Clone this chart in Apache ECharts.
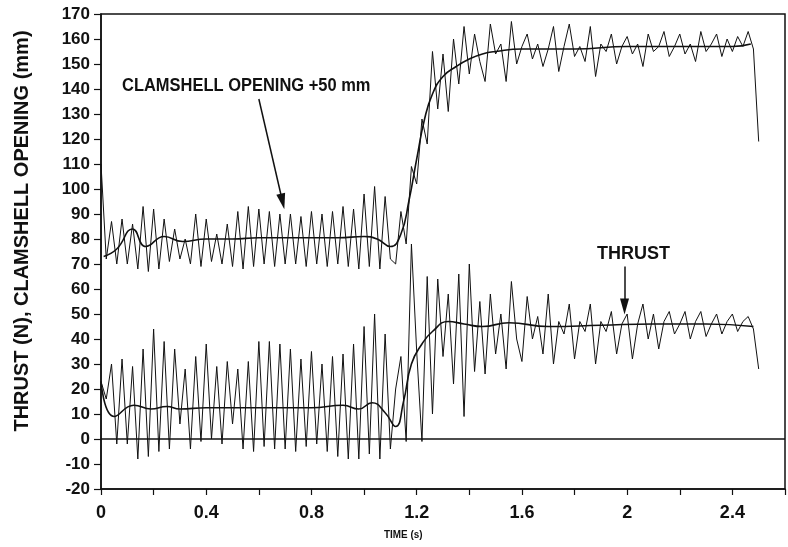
<!DOCTYPE html>
<html>
<head>
<meta charset="utf-8">
<script src="https://cdn.jsdelivr.net/npm/echarts@6/dist/echarts.min.js"></script>
<style>
  html, body { margin: 0; padding: 0; background: #fff; }
  #chart { width: 788px; height: 547px; }
</style>
</head>
<body>
<div id="chart"></div>
<script>
// raw samples, every 0.02 s
const rawTime = [
  0, 0.02, 0.04, 0.06, 0.08, 0.1, 0.12, 0.14, 0.16, 0.18,
  0.2, 0.22, 0.24, 0.26, 0.28, 0.3, 0.32, 0.34, 0.36, 0.38,
  0.4, 0.42, 0.44, 0.46, 0.48, 0.5, 0.52, 0.54, 0.56, 0.58,
  0.6, 0.62, 0.64, 0.66, 0.68, 0.7, 0.72, 0.74, 0.76, 0.78,
  0.8, 0.82, 0.84, 0.86, 0.88, 0.9, 0.92, 0.94, 0.96, 0.98,
  1, 1.02, 1.04, 1.06, 1.08, 1.1, 1.12, 1.14, 1.16, 1.18,
  1.2, 1.22, 1.24, 1.26, 1.28, 1.3, 1.32, 1.34, 1.36, 1.38,
  1.4, 1.42, 1.44, 1.46, 1.48, 1.5, 1.52, 1.54, 1.56, 1.58,
  1.6, 1.62, 1.64, 1.66, 1.68, 1.7, 1.72, 1.74, 1.76, 1.78,
  1.8, 1.82, 1.84, 1.86, 1.88, 1.9, 1.92, 1.94, 1.96, 1.98,
  2, 2.02, 2.04, 2.06, 2.08, 2.1, 2.12, 2.14, 2.16, 2.18,
  2.2, 2.22, 2.24, 2.26, 2.28, 2.3, 2.32, 2.34, 2.36, 2.38,
  2.4, 2.42, 2.44, 2.46, 2.48, 2.5
]
// clamshell opening + 50 mm
const clamRaw = [
  110, 72, 87, 70, 88, 70, 86, 68, 93, 67,
  92, 68, 88, 71, 84, 72, 80, 70, 90, 69,
  88, 71, 82, 70, 86, 69, 91, 68, 93, 69,
  92, 70, 91, 69, 90, 70, 90, 70, 89, 69,
  91, 70, 90, 69, 91, 70, 93, 69, 92, 68,
  98, 69, 101, 68, 97, 72, 70, 91, 78, 109,
  102, 128, 118, 155, 132, 154, 131, 160, 142, 165,
  146, 162, 151, 143, 166, 154, 158, 143, 167, 150,
  157, 162, 152, 158, 149, 156, 165, 147, 157, 166,
  153, 157, 151, 165, 145, 158, 155, 162, 150, 157,
  161, 154, 158, 149, 162, 155, 157, 163, 153, 157,
  162, 154, 158, 151, 163, 155, 158, 162, 153, 160,
  155, 161, 157, 163, 156, 119
]
// thrust (N)
const thrustRaw = [
  23, 16, 30, -2, 32, -2, 29, -8, 36, -7,
  44, -5, 39, -4, 36, 6, 28, -4, 33, -1,
  38, 0, 29, -2, 31, 6, 28, -4, 31, -5,
  39, -3, 39, -4, 38, -4, 36, -5, 32, -3,
  35, -2, 30, -5, 33, -7, 34, -8, 38, -8,
  45, -6, 50, -8, 42, -4, 20, 33, -1, 78,
  35, -1, 65, 10, 64, 33, 58, 22, 66, 9,
  70, 27, 55, 26, 58, 34, 50, 28, 63, 40,
  31, 57, 40, 49, 34, 58, 30, 47, 42, 54,
  32, 47, 43, 54, 30, 47, 43, 51, 34, 46,
  50, 32, 46, 54, 40, 50, 36, 47, 51, 42,
  46, 51, 40, 47, 51, 41, 46, 50, 42, 47,
  50, 43, 47, 49, 44, 28
]
// filtered curves
const clamSmoothTime = [0.01, 0.06, 0.12, 0.17, 0.24, 0.31, 0.4, 0.5, 0.6, 0.7,
  0.8, 0.9, 1.0, 1.05, 1.1, 1.14, 1.17, 1.2, 1.23, 1.26,
  1.3, 1.35, 1.4, 1.45, 1.5, 1.6, 1.8, 2.0, 2.2, 2.4, 2.47]
const clamSmooth = [73, 76, 84, 77, 81, 79, 80, 80, 80.5, 80.5,
  80.5, 80.5, 81, 80, 77, 82, 95, 112, 128, 138,
  145, 149, 152, 154, 155, 156, 156, 157, 157, 157, 158]
const thrustSmoothTime = [0, 0.05, 0.125, 0.19, 0.25, 0.3, 0.4, 0.5, 0.6, 0.7,
  0.8, 0.92, 0.98, 1.03, 1.08, 1.12, 1.15, 1.18, 1.22, 1.26,
  1.32, 1.38, 1.45, 1.55, 1.7, 1.9, 2.1, 2.3, 2.48]
const thrustSmooth = [23, 9, 13.5, 12, 13, 12, 12.5, 12.5, 12.5, 12.5,
  12.5, 13.5, 12, 14.5, 10.5, 5, 15, 30, 38, 43,
  47, 46, 45, 46.5, 45, 45.5, 46, 46, 45]

const xTickLabels = ['0', '0.4', '0.8', '1.2', '1.6', '2', '2.4']
// arrows: [start, end] in data coords
const clamArrow = [[0.6, 136], [0.69, 95]]
const thrustArrow = [[1.99, 69], [1.99, 53]]

const ink = '#111'
const font = 'Liberation Sans'

function pairs (ts, vs) {
  return ts.map((t, i) => [t, vs[i]])
}

function arrow (pts) {
  return {
    silent: true,
    symbol: ['none', 'triangle'],
    symbolSize: [9, 16],
    lineStyle: { color: ink, width: 1.5, type: 'solid' },
    label: { show: false },
    data: [[{ coord: pts[0] }, { coord: pts[1] }]]
  }
}

const chart = echarts.init(document.getElementById('chart'))

chart.setOption({
  animation: false,
  backgroundColor: '#fff',
  grid: {
    left: 101, right: -5, top: 14, bottom: 58,
    show: true, borderColor: ink, borderWidth: 1.5, backgroundColor: 'transparent'
  },
  xAxis: {
    type: 'value',
    min: 0, max: 2.6, interval: 0.2,
    axisLine: { show: true, onZero: false, lineStyle: { color: ink, width: 1.5 } },
    axisTick: { show: true, length: 6, lineStyle: { color: ink, width: 1.2 } },
    splitLine: { show: false },
    axisLabel: {
      margin: 15,
      color: ink, fontFamily: font, fontSize: 18, fontWeight: 'bold',
      formatter: v => {
        const s = String(+v.toFixed(1))
        return xTickLabels.includes(s) ? s : ''
      }
    }
  },
  yAxis: {
    type: 'value',
    min: -20, max: 170, interval: 10,
    axisLine: { show: true, onZero: false, lineStyle: { color: ink, width: 1.5 } },
    axisTick: { show: true, length: 7, lineStyle: { color: ink, width: 1.2 } },
    splitLine: { show: false },
    axisLabel: { margin: 11, color: ink, fontFamily: font, fontSize: 17, fontWeight: 'bold' }
  },
  series: [
    {
      name: 'clamshell raw', type: 'line', showSymbol: false, silent: true,
      data: pairs(rawTime, clamRaw),
      lineStyle: { color: ink, width: 1 },
      markLine: arrow(clamArrow)
    },
    {
      name: 'thrust raw', type: 'line', showSymbol: false, silent: true,
      data: pairs(rawTime, thrustRaw),
      lineStyle: { color: ink, width: 1 },
      markLine: {
        silent: true,
        symbol: 'none',
        lineStyle: { color: ink, width: 1.5, type: 'solid' },
        label: { show: false },
        data: [{ yAxis: 0 }]
      }
    },
    {
      name: 'clamshell filtered', type: 'line', showSymbol: false, silent: true,
      smooth: true,
      data: pairs(clamSmoothTime, clamSmooth),
      lineStyle: { color: ink, width: 1.6 }
    },
    {
      name: 'thrust filtered', type: 'line', showSymbol: false, silent: true,
      smooth: true,
      data: pairs(thrustSmoothTime, thrustSmooth),
      lineStyle: { color: ink, width: 1.6 },
      markLine: arrow(thrustArrow)
    }
  ],
  graphic: [
    {
      // vertical axis title
      type: 'text', x: 22, y: 231, rotation: Math.PI / 2,
      style: {
        text: 'THRUST (N), CLAMSHELL OPENING (mm)', fill: ink,
        font: 'bold 20px "Liberation Sans"', align: 'center', verticalAlign: 'middle'
      }
    },
    {
      type: 'text', left: 122, top: 77, scaleX: 0.915,
      style: { text: 'CLAMSHELL OPENING +50 mm', fill: ink, font: 'bold 18px "Liberation Sans"' }
    },
    {
      type: 'text', left: 597, top: 245,
      style: { text: 'THRUST', fill: ink, font: 'bold 18px "Liberation Sans"' }
    },
    {
      type: 'text', left: 384, top: 529, scaleX: 0.9,
      style: { text: 'TIME (s)', fill: ink, font: 'bold 11px "Liberation Sans"' }
    }
  ]
})
</script>
</body>
</html>
